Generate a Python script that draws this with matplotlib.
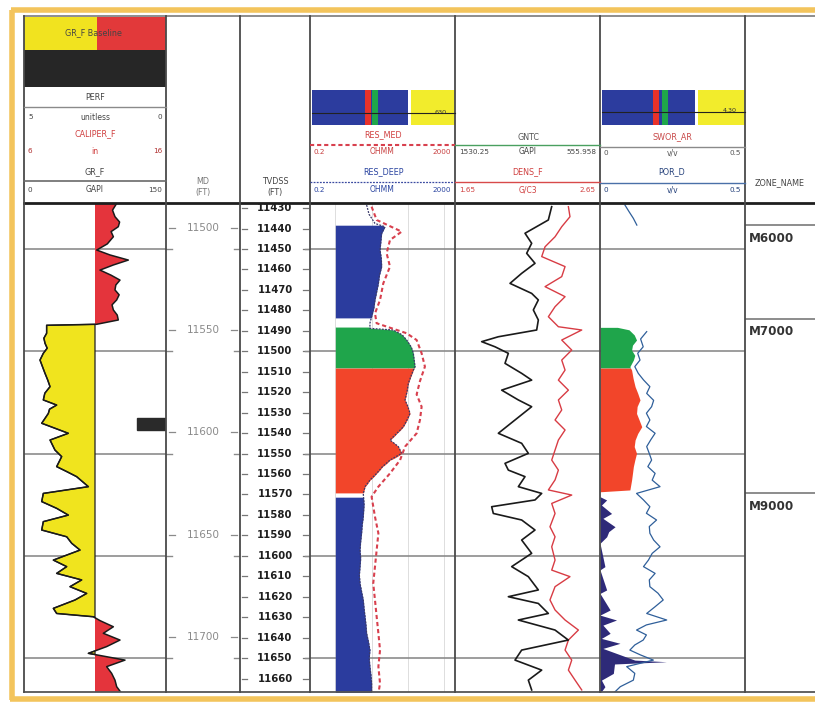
import numpy as np
import matplotlib
matplotlib.use("Agg")
import matplotlib.pyplot as plt
from matplotlib.patches import Rectangle
from matplotlib.transforms import blended_transform_factory

W, H = 815, 707

# ---- depth reference (TVDSS, ft) ----
DEPTH_TOP, DEPTH_BOT = 11427.5, 11666.6
MD_SHIFT = 60.3
GRID_DEPTHS = [11450, 11500, 11550, 11600, 11650]
TVDSS_LABELS = list(range(11430, 11661, 10))
MD_LABELS = [11500, 11550, 11600, 11650, 11700]

# ---- gamma ray (GAPI) ----
GR_BASELINE = 75.0
GR_DEPTH = [11427.7, 11431.0, 11434.2, 11436.8, 11439.1, 11441.5, 11444.0, 11447.5, 11450.5,
            11452.9, 11455.4, 11457.8, 11460.3, 11462.8, 11465.2, 11467.6, 11470.0, 11472.4,
            11474.9, 11477.3, 11479.8, 11482.3, 11484.7, 11486.8, 11487.3, 11491.2, 11493.6,
            11496.1, 11498.5, 11501.0, 11504.3, 11507.5, 11510.8, 11514.0, 11517.3, 11520.5,
            11523.8, 11526.3, 11528.3, 11530.4, 11535.2, 11540.1, 11543.4, 11548.3, 11551.5,
            11556.4, 11558.8, 11561.3, 11566.2, 11569.5, 11573.5, 11576.8, 11580.1, 11583.3,
            11587.4, 11590.7, 11593.9, 11597.2, 11602.1, 11605.3, 11608.6, 11611.8, 11615.1,
            11618.4, 11621.6, 11625.7, 11628.2, 11629.8, 11631.7, 11634.7, 11637.9, 11641.2,
            11644.4, 11647.7, 11651.0, 11654.2, 11657.5, 11660.8, 11664.0, 11667.3]
GR = [97.9, 93.5, 96.1, 101.0, 99.6, 92.0, 94.4, 88.0, 76.8,
      90.8, 110.2, 94.4, 80.3, 92.0, 101.4, 97.0, 96.1, 100.5,
      97.9, 93.0, 94.4, 98.5, 99.6, 76.8, 23.9, 23.9, 21.0,
      22.2, 24.5, 20.4, 16.9, 19.5, 22.2, 25.0, 27.5, 22.0,
      20.4, 34.5, 27.0, 25.7, 18.7, 46.8, 27.5, 32.7, 39.8,
      34.5, 45.0, 55.6, 68.0, 20.4, 18.7, 34.5, 46.8, 20.4,
      18.7, 45.1, 50.4, 59.2, 31.0, 45.1, 34.5, 60.9, 48.6,
      66.2, 53.9, 31.0, 34.5, 73.2, 80.3, 94.4, 83.8, 101.4,
      87.3, 68.0, 106.7, 87.3, 92.6, 96.1, 97.9, 103.2]
PERF_TOP, PERF_BASE = 11532.6, 11538.5

# ---- resistivity (ohmm) ----
RES_CUTOFF = 1.0
RES_DEEP_DEPTH = [11428.5, 11433.0, 11437.5, 11439.1, 11442.3, 11446.5, 11450.5, 11454.5,
                  11458.6, 11462.7, 11466.8, 11470.9, 11474.9, 11479.0, 11483.1, 11486.3,
                  11488.8, 11489.6, 11492.0, 11494.5, 11498.0, 11501.0, 11504.5, 11507.5,
                  11509.2, 11512.5, 11515.7, 11519.7, 11523.8, 11527.0, 11530.4, 11533.6,
                  11536.9, 11540.1, 11543.4, 11546.6, 11549.9, 11553.2, 11556.4, 11559.7,
                  11563.0, 11566.2, 11569.5, 11575.0, 11580.9, 11585.0, 11589.0, 11593.0,
                  11597.2, 11601.3, 11605.3, 11609.4, 11613.5, 11617.5, 11621.6, 11625.7,
                  11629.8, 11633.8, 11637.9, 11642.0, 11646.1, 11650.1, 11654.2, 11658.3,
                  11662.4, 11667.3]
RES_DEEP = [7.3, 8.5, 12.4, 23.4, 19.0, 18.0, 17.1, 18.5,
            19.0, 16.5, 15.4, 13.8, 12.4, 11.5, 10.0, 9.0,
            9.0, 39.8, 70.0, 92.9, 125.0, 141.8, 150.0, 157.7,
            141.8, 120.0, 103.3, 95.0, 83.6, 100.0, 114.8, 95.0,
            75.2, 50.0, 32.2, 54.7, 67.6, 32.2, 20.0, 13.8,
            9.0, 6.6, 5.9, 6.2, 5.9, 5.5, 5.3, 5.0,
            4.8, 5.0, 4.8, 4.6, 4.8, 5.3, 5.9, 6.2,
            6.6, 7.0, 7.3, 8.2, 9.0, 8.6, 9.0, 9.6,
            10.0, 10.0]
RES_MED_DEPTH = [11429.3, 11435.8, 11441.5, 11445.6, 11452.1, 11458.6, 11466.8, 11474.9,
                 11481.5, 11486.3, 11491.2, 11494.5, 11501.0, 11507.5, 11514.6, 11521.1,
                 11527.1, 11533.6, 11540.1, 11546.6, 11553.2, 11559.7, 11566.2, 11571.1,
                 11580.9, 11589.0, 11597.2, 11605.3, 11613.5, 11621.6, 11629.8, 11637.9,
                 11646.1, 11654.2, 11662.4, 11667.3]
RES_MED = [10.0, 13.8, 67.6, 32.2, 26.0, 32.2, 21.0, 17.1,
           12.4, 13.8, 92.9, 174.9, 240.0, 296.0, 216.0, 175.0,
           240.0, 216.0, 175.0, 84.0, 61.0, 32.2, 15.4, 10.0,
           12.4, 15.4, 13.8, 12.4, 11.1, 12.4, 13.8, 15.4,
           17.1, 15.4, 17.1, 15.4]
RES_FILL_ZONES = [(11438.3, 11483.7, "#2b3c9e"),
                  (11488.1, 11508.2, "#1fa54b"),
                  (11508.2, 11569.3, "#f2452a"),
                  (11571.3, 11667.3, "#2b3c9e")]

# ---- density track ----
GNTC_LEFT, GNTC_RIGHT = 1530.25, 555.958
GNTC_DEPTH = [11429.3, 11435.8, 11442.3, 11447.2, 11452.1, 11457.0, 11461.9, 11466.8,
              11471.7, 11474.9, 11479.8, 11484.7, 11489.6, 11492.9, 11495.3, 11497.8,
              11501.0, 11505.9, 11510.8, 11514.1, 11519.0, 11523.8, 11527.1, 11533.6,
              11540.1, 11545.0, 11549.9, 11554.8, 11558.1, 11561.3, 11566.2, 11569.5,
              11572.7, 11576.0, 11579.3, 11582.5, 11587.4, 11592.3, 11598.8, 11605.3,
              11610.2, 11616.7, 11620.0, 11623.3, 11628.2, 11631.4, 11636.3, 11641.2,
              11646.1, 11651.0, 11655.9, 11660.8, 11665.6]
GNTC = [880.7, 903.1, 1059.9, 1015.1, 1048.7, 992.7, 1082.3, 1160.7,
        1015.1, 970.3, 1003.9, 970.3, 981.5, 1239.1, 1351.1, 1261.5,
        1171.9, 1194.3, 1082.3, 1015.1, 1216.7, 1104.7, 1015.1, 1127.1,
        1239.1, 1082.3, 1037.5, 1194.3, 1171.9, 1059.9, 1104.7, 947.9,
        992.7, 1283.9, 1272.7, 1082.3, 992.7, 1082.3, 1015.1, 1149.5,
        1037.5, 970.3, 1171.9, 970.3, 903.1, 1104.7, 858.3, 768.7,
        1082.3, 1127.1, 947.9, 1037.5, 1015.1]
DENS_DEPTH = [11429.3, 11434.2, 11439.1, 11444.0, 11448.9, 11453.7, 11458.6, 11463.5,
              11468.4, 11473.3, 11478.2, 11483.1, 11488.0, 11489.6, 11494.5, 11499.4,
              11504.3, 11509.2, 11514.1, 11519.0, 11523.8, 11528.7, 11533.6, 11538.5,
              11543.4, 11548.3, 11553.2, 11558.1, 11562.9, 11567.8, 11570.3, 11574.4,
              11579.3, 11585.8, 11590.7, 11595.6, 11602.1, 11607.0, 11610.2, 11615.1,
              11621.6, 11626.5, 11631.4, 11636.3, 11641.2, 11646.1, 11651.0, 11655.9,
              11660.8, 11665.6]
DENS = [2.432, 2.443, 2.386, 2.340, 2.271, 2.248, 2.409, 2.386,
        2.271, 2.409, 2.340, 2.294, 2.363, 2.524, 2.386, 2.455,
        2.386, 2.409, 2.363, 2.432, 2.363, 2.386, 2.340, 2.409,
        2.363, 2.340, 2.317, 2.363, 2.340, 2.294, 2.455, 2.317,
        2.340, 2.305, 2.340, 2.317, 2.340, 2.317, 2.443, 2.340,
        2.305, 2.340, 2.409, 2.501, 2.432, 2.409, 2.455, 2.432,
        2.478, 2.524]

# ---- porosity track (v/v) ----
POR_D_DEPTH = [11428.5, 11431.7, 11435.0, 11438.3, np.nan,
               11490.4, 11494.0, 11497.8, 11501.0, 11504.3, 11507.5, 11510.8, 11514.0,
               11517.3, 11520.6, 11524.0, 11527.1, 11530.3, 11533.6, 11536.8, 11540.1,
               11543.3, 11546.6, 11550.0, 11553.2, 11556.4, 11559.7, 11563.0, 11566.2,
               11569.5, 11572.7, 11576.0, 11579.2, 11582.5, 11585.7, 11589.0, 11592.3,
               11595.6, 11598.8, 11602.1, 11605.3, 11608.6, 11611.8, 11615.1, 11618.3,
               11621.6, 11624.9, 11628.2, 11631.4, 11633.8, 11636.3, 11638.7, 11641.2,
               11643.6, 11646.1, 11648.5, 11651.0, 11654.2, 11657.5, 11660.8, 11664.0,
               11667.3]
POR_D = [0.086, 0.100, 0.115, 0.127, np.nan,
         0.161, 0.140, 0.149, 0.130, 0.138, 0.120, 0.132, 0.150,
         0.172, 0.161, 0.185, 0.178, 0.160, 0.172, 0.160, 0.190,
         0.175, 0.161, 0.170, 0.178, 0.165, 0.190, 0.180, 0.207,
         0.126, 0.150, 0.172, 0.160, 0.195, 0.170, 0.172, 0.185,
         0.207, 0.180, 0.167, 0.150, 0.190, 0.170, 0.172, 0.200,
         0.218, 0.190, 0.161, 0.230, 0.160, 0.126, 0.160, 0.149,
         0.120, 0.103, 0.140, 0.184, 0.092, 0.120, 0.115, 0.070,
         0.046]
PHI_FILL_DEPTH = [11488.3, 11489.5, 11492.0, 11494.5, 11497.0, 11499.4, 11502.0, 11504.3,
                  11507.5, 11509.2, 11513.2, 11517.3, 11520.5, 11523.8, 11527.0, 11530.4,
                  11533.6, 11536.9, 11540.2, 11543.4, 11546.6, 11549.9, 11553.2, 11556.4,
                  11559.7, 11562.9, 11567.8, 11568.7,
                  11571.1, 11572.7, 11575.2, 11579.3, 11581.7, 11585.8, 11588.2, 11590.7,
                  11593.9, 11605.3, 11606.9, 11616.7, 11618.4, 11626.5, 11629.0, 11631.4,
                  11633.9, 11637.9, 11640.4, 11642.8, 11645.3, 11651.0, 11651.8, 11652.9,
                  11657.5, 11660.8, 11664.0, 11667.3]
PHI_FILL = [0.060, 0.100, 0.118, 0.126, 0.112, 0.109, 0.120, 0.115,
            0.103, 0.109, 0.114, 0.121, 0.130, 0.138, 0.128, 0.126,
            0.135, 0.144, 0.130, 0.121, 0.118, 0.126, 0.120, 0.115,
            0.112, 0.109, 0.103, 0.0,
            0.0, 0.023, 0.005, 0.040, 0.010, 0.052, 0.030, 0.023,
            0.0, 0.017, 0.0, 0.023, 0.0, 0.035, 0.0, 0.057,
            0.010, 0.035, 0.005, 0.069, 0.010, 0.120, 0.230, 0.050,
            0.046, 0.005, 0.017, 0.0]
POR_FILL_ZONES = [(11488.3, 11508.2, "#1fa54b"),
                  (11508.2, 11568.7, "#f2452a"),
                  (11571.0, 11667.3, "#2e2a78")]

# ---- zones ----
ZONE_TOPS = [11438.3, 11484.0, 11569.3]
ZONE_NAMES = ["M6000", "M7000", "M9000"]

# track edges in pixels
X_GR, X_MD, X_TVD, X_RES, X_DEN, X_POR, X_ZONE, X_END = 24, 166, 240, 310, 455, 600, 745, 815
Y_HEAD_TOP, Y_HEAD_BOT, Y_BOT = 16, 203, 692

fig = plt.figure(figsize=(W / 100, H / 100), dpi=100)
fig.patch.set_facecolor("white")


def track(x0, x1):
    ax = fig.add_axes([x0 / W, 1 - Y_BOT / H, (x1 - x0) / W, (Y_BOT - Y_HEAD_BOT) / H])
    ax.set_ylim(DEPTH_BOT, DEPTH_TOP)
    ax.set_axis_off()
    return ax


def depth_grid(ax):
    for d in GRID_DEPTHS:
        ax.axhline(d, color="#8c8c8c", lw=1.2, zorder=1)


def zone_fill(ax, depth, values, base, zones):
    fine = np.linspace(depth[0], depth[-1], 4000)
    v = np.interp(fine, depth, values)
    for top, bot, col in zones:
        m = (fine >= top) & (fine <= bot)
        ax.fill_betweenx(fine[m], base, v[m], color=col, lw=0, zorder=2)


# GR track
ax_gr = track(X_GR, X_MD)
ax_gr.set_xlim(0, 150)
depth_grid(ax_gr)
gd, gv = np.array(GR_DEPTH), np.array(GR)
ax_gr.fill_betweenx(gd, gv, GR_BASELINE, where=gv < GR_BASELINE, interpolate=True,
                    facecolor="#f0e41e", edgecolor="#202020", lw=0.9, zorder=2)
ax_gr.fill_betweenx(gd, gv, GR_BASELINE, where=gv >= GR_BASELINE, interpolate=True,
                    facecolor="#e4343c", lw=0, zorder=2)
ax_gr.plot(gv, gd, color="#1a1a1a", lw=1.1, zorder=3)
bt = blended_transform_factory(ax_gr.transAxes, ax_gr.transData)
ax_gr.add_patch(Rectangle((0.795, PERF_TOP), 0.205, PERF_BASE - PERF_TOP, transform=bt,
                          color="#2a2a2a", zorder=4))

# MD track
ax_md = track(X_MD, X_TVD)
ax_md.set_xlim(0, 1)
for md in MD_LABELS:
    d = md - MD_SHIFT
    ax_md.text(0.5, d, f"{md}", ha="center", va="center", fontsize=7.5, color="#8a8a8a")
    ax_md.plot([0.04, 0.12], [d, d], color="#8a8a8a", lw=0.9)
    ax_md.plot([0.88, 0.96], [d, d], color="#8a8a8a", lw=0.9)
for d in GRID_DEPTHS:
    ax_md.plot([0.0, 0.08], [d, d], color="#8a8a8a", lw=1.0)
    ax_md.plot([0.92, 1.0], [d, d], color="#8a8a8a", lw=1.0)

# TVDSS track
ax_tvd = track(X_TVD, X_RES)
ax_tvd.set_xlim(0, 1)
for d in TVDSS_LABELS:
    ax_tvd.text(0.5, d, f"{d}", ha="center", va="center", fontsize=7.3,
                fontweight="bold", color="#1e1e1e")
    ax_tvd.plot([0.03, 0.1], [d, d], color="#777777", lw=0.9)
    ax_tvd.plot([0.9, 0.97], [d, d], color="#777777", lw=0.9)
for d in GRID_DEPTHS:
    ax_tvd.plot([0.93, 1.0], [d, d], color="#8a8a8a", lw=1.0)

# Resistivity track
ax_res = track(X_RES, X_DEN)
ax_res.set_xscale("log")
ax_res.set_xlim(0.2, 2000)
ax_res.set_ylim(DEPTH_BOT, DEPTH_TOP)
depth_grid(ax_res)
for v in [1, 10, 100, 1000]:
    ax_res.axvline(v, color="#d8d8d8", lw=0.6, zorder=0)
zone_fill(ax_res, RES_DEEP_DEPTH, RES_DEEP, RES_CUTOFF, RES_FILL_ZONES)
ax_res.plot(RES_DEEP, RES_DEEP_DEPTH, color="#3a3a6a", lw=0.9, ls=(0, (1.5, 1)), zorder=3)
ax_res.plot(RES_MED, RES_MED_DEPTH, color="#d8404e", lw=1.5, ls=(0, (2, 1.4)), zorder=3)

# Density track
ax_den = track(X_DEN, X_POR)
ax_den.set_xlim(1.65, 2.65)
depth_grid(ax_den)
ax_den.plot(DENS, DENS_DEPTH, color="#d83c44", lw=1.0, zorder=3)
ax_gn = ax_den.twiny()
ax_gn.set_axis_off()
ax_gn.set_xlim(GNTC_LEFT, GNTC_RIGHT)
ax_gn.set_ylim(DEPTH_BOT, DEPTH_TOP)
ax_gn.plot(GNTC, GNTC_DEPTH, color="#1a1a1a", lw=1.2, zorder=3)

# Porosity track
ax_por = track(X_POR, X_ZONE)
ax_por.set_xlim(0, 0.5)
depth_grid(ax_por)
zone_fill(ax_por, PHI_FILL_DEPTH, PHI_FILL, 0.0, POR_FILL_ZONES)
ax_por.plot(POR_D, POR_D_DEPTH, color="#2f5f9a", lw=0.9, zorder=3)

# Zone track
ax_zn = track(X_ZONE, X_END)
ax_zn.set_xlim(0, 1)
for top, name in zip(ZONE_TOPS, ZONE_NAMES):
    ax_zn.axhline(top, color="#8c8c8c", lw=1.4)
    ax_zn.text(0.06, top + 6.5, name, ha="left", va="center", fontsize=8.6,
               fontweight="bold", color="#333333")

# ---- overlay: frame and headers ----
ov = fig.add_axes([0, 0, 1, 1], zorder=10)
ov.set_xlim(0, W)
ov.set_ylim(H, 0)
ov.set_axis_off()

orange = "#f3c45c"
ov.plot([11, W], [10, 10], color=orange, lw=4, solid_capstyle="butt")
ov.plot([12, 12], [10, 700], color=orange, lw=4, solid_capstyle="butt")
ov.plot([10, W], [699, 699], color=orange, lw=4, solid_capstyle="butt")

ov.plot([X_GR, W], [Y_HEAD_TOP, Y_HEAD_TOP], color="#7a7a7a", lw=1.2)
ov.plot([X_GR, W], [Y_HEAD_BOT, Y_HEAD_BOT], color="#1e1e1e", lw=2.0)
ov.plot([X_GR, W], [Y_BOT, Y_BOT], color="#555555", lw=1.3)
for x in [X_GR, X_MD, X_TVD, X_RES, X_DEN, X_POR, X_ZONE]:
    ov.plot([x, x], [Y_HEAD_TOP, Y_BOT], color="#4a4a4a", lw=1.3)

fs = 5.8


def scale_row(x0, x1, y, left, unit, right, color, ucolor=None):
    ov.text(x0 + 4, y, left, ha="left", va="center", fontsize=fs - 0.6, color=color)
    ov.text((x0 + x1) / 2, y, unit, ha="center", va="center", fontsize=fs - 0.3,
            color=ucolor or color)
    ov.text(x1 - 4, y, right, ha="right", va="center", fontsize=fs - 0.6, color=color)


# GR header
ov.add_patch(Rectangle((X_GR, 17), 73, 33, color="#f1e31f", lw=0))
ov.add_patch(Rectangle((97, 17), X_MD - 97, 33, color="#e2393a", lw=0))
ov.text(93, 33, "GR_F Baseline", ha="center", va="center", fontsize=fs, color="#444444")
ov.add_patch(Rectangle((X_GR, 50), X_MD - X_GR, 37, color="#262626", lw=0))
ov.text(95, 97, "PERF", ha="center", va="center", fontsize=fs, color="#444444")
ov.plot([X_GR, X_MD], [107, 107], color="#8a8a8a", lw=1.0)
scale_row(X_GR, X_MD, 117, "5", "unitless", "0", "#444444")
ov.text(95, 134, "CALIPER_F", ha="center", va="center", fontsize=fs, color="#d04040")
scale_row(X_GR, X_MD, 151, "6", "in", "16", "#b03030", "#d04040")
ov.text(95, 172, "GR_F", ha="center", va="center", fontsize=fs, color="#444444")
ov.plot([X_GR, X_MD], [181, 181], color="#6a6a6a", lw=1.2)
scale_row(X_GR, X_MD, 190, "0", "GAPI", "150", "#444444")

# MD / TVDSS headers
ov.text(203, 181, "MD", ha="center", va="center", fontsize=fs, color="#777777")
ov.text(203, 192, "(FT)", ha="center", va="center", fontsize=fs, color="#777777")
ov.text(275, 181, "TVDSS", ha="center", va="center", fontsize=fs, color="#444444")
ov.text(275, 192, "(FT)", ha="center", va="center", fontsize=fs, color="#444444")


def colour_bar(x0, split, red_x, green_x, x_end, y_line, label):
    ov.add_patch(Rectangle((x0, 90), split - x0, 35, color="#2c3c9e", lw=0))
    ov.add_patch(Rectangle((red_x, 90), 6, 35, color="#e8322a", lw=0))
    ov.add_patch(Rectangle((green_x, 90), 6, 35, color="#1fa64a", lw=0))
    ov.add_patch(Rectangle((split + 3, 90), x_end - split - 3, 35, color="#f2ec2c", lw=0))
    ov.plot([x0, x_end], [y_line, y_line], color="#222222", lw=0.8)
    ov.text(x_end - 8, y_line - 1, label, ha="right", va="center", fontsize=fs - 1.2,
            color="#333333")


# Resistivity header
colour_bar(312, 408, 365, 372, X_DEN, 113, "630")
ov.text(383, 135, "RES_MED", ha="center", va="center", fontsize=fs, color="#d04040")
ov.plot([X_RES, X_DEN], [145, 145], color="#d8404e", lw=1.5, ls=(0, (2, 1.4)))
scale_row(X_RES, X_DEN, 152, "0.2", "OHMM", "2000", "#c84040")
ov.text(383, 172, "RES_DEEP", ha="center", va="center", fontsize=fs, color="#2a44a0")
ov.plot([X_RES, X_DEN], [182, 182], color="#3a4aa0", lw=0.9, ls=(0, (1.5, 1)))
scale_row(X_RES, X_DEN, 190, "0.2", "OHMM", "2000", "#2a44a0")

# Density header
ov.text(528, 137, "GNTC", ha="center", va="center", fontsize=fs, color="#555555")
ov.plot([X_DEN, X_POR], [145, 145], color="#4aa060", lw=1.0)
scale_row(X_DEN, X_POR, 152, f"{GNTC_LEFT}", "GAPI", f"{GNTC_RIGHT}", "#444444")
ov.text(528, 172, "DENS_F", ha="center", va="center", fontsize=fs, color="#d04040")
ov.plot([X_DEN, X_POR], [182, 182], color="#d84a4a", lw=1.0)
scale_row(X_DEN, X_POR, 190, "1.65", "G/C3", "2.65", "#d04040")

# Porosity header
colour_bar(602, 695, 653, 662, X_ZONE, 112, "4.30")
ov.text(672, 137, "SWOR_AR", ha="center", va="center", fontsize=fs, color="#c84848")
ov.plot([X_POR, X_ZONE], [147, 147], color="#8a8a8a", lw=1.0)
scale_row(X_POR, X_ZONE, 153, "0", "v/v", "0.5", "#555555")
ov.text(672, 172, "POR_D", ha="center", va="center", fontsize=fs, color="#24407a")
ov.plot([X_POR, X_ZONE], [183, 183], color="#4a70a8", lw=1.0)
scale_row(X_POR, X_ZONE, 190, "0", "v/v", "0.5", "#24407a")

# Zone header
ov.text(780, 183, "ZONE_NAME", ha="center", va="center", fontsize=fs, color="#444444")

fig.savefig("out.png", dpi=100, facecolor="white")
